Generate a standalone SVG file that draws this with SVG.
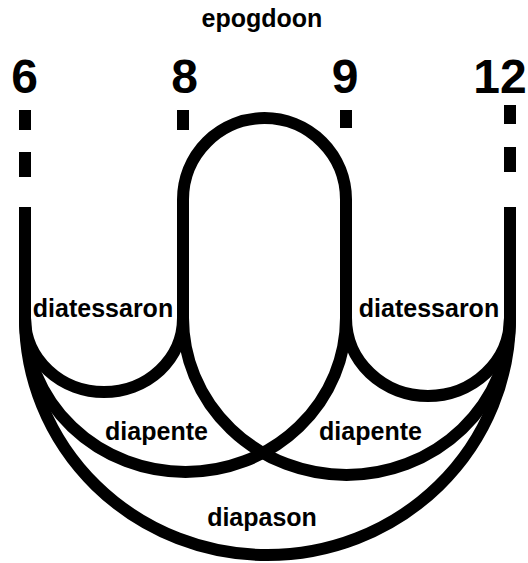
<svg xmlns="http://www.w3.org/2000/svg" width="528" height="563" viewBox="0 0 528 563">
<style>
.num{font-family:"Liberation Sans",Arial,sans-serif;font-weight:bold;font-size:48px;text-anchor:middle;fill:#000}
.lbl{font-family:"Liberation Sans",Arial,sans-serif;font-weight:bold;font-size:25px;text-anchor:middle;fill:#000}
.ln{fill:none;stroke:#000;stroke-width:12}
</style>
<rect width="528" height="563" fill="#fff"/>
<g id="node-6">
<text class="num" x="24.5" y="93">6</text>
<path class="ln" d="M25,110V130M25,152V177M25,207V318"/>
</g>
<g id="node-8">
<text class="num" x="184.5" y="93">8</text>
<path class="ln" d="M183,110V130"/>
</g>
<g id="node-9">
<text class="num" x="345" y="93">9</text>
<path class="ln" d="M346,110V128"/>
</g>
<g id="node-12">
<text class="num" x="500" y="93">12</text>
<path class="ln" d="M510,105V124M510,147V172M510,207V318"/>
</g>
<g id="connectors">
<path id="epogdoon" class="ln" d="M183,318V199.5A81.5,81.5 0 0 1 346,199.5V318"/>
<path id="diatessaron-l" class="ln" d="M25,318A79,74 0 0 0 183,318"/>
<path id="diatessaron-r" class="ln" d="M346,318A82,78 0 0 0 510,318"/>
<path id="diapente-l" class="ln" d="M25,318A160.5,154 0 0 0 346,318"/>
<path id="diapente-r" class="ln" d="M183,318A163.5,157 0 0 0 510,318"/>
<path id="diapason" class="ln" d="M25,318A242.5,237 0 0 0 510,318"/>
</g>
<g id="labels">
<text class="lbl" x="262" y="27">epogdoon</text>
<text class="lbl" x="103" y="317">diatessaron</text>
<text class="lbl" x="429" y="317">diatessaron</text>
<text class="lbl" x="156.5" y="440">diapente</text>
<text class="lbl" x="370.5" y="440">diapente</text>
<text class="lbl" x="262" y="526">diapason</text>
</g>
</svg>
